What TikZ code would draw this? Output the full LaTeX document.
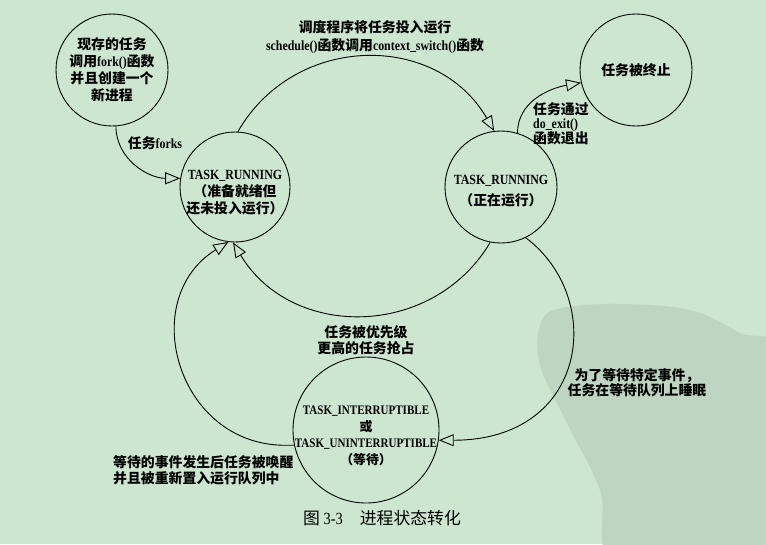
\documentclass[tikz,border=0pt]{standalone}
\usepackage{fontspec}
\setmainfont{Liberation Serif}[FakeStretch=0.85]
\newfontfamily\zh{Noto Sans CJK SC}[Scale=0.99]
\usetikzlibrary{arrows.meta}
\definecolor{paper}{RGB}{205,230,208}
\definecolor{stamp}{RGB}{190,213,193}
\newcommand\cn[1]{{\zh #1}}

\begin{document}
\begin{tikzpicture}[
    x=1pt, y=-1pt,
    font=\fontsize{14}{17}\selectfont\bfseries,
    state/.style={draw, circle, line width=0.9pt, inner sep=0pt},
    lbl/.style={inner sep=0pt, align=center},
    arr/.style={-{Triangle[open, length=15pt, width=12pt]}, line width=0.9pt}
  ]
  \fill[paper] (0,0) rectangle (766,544);
  \useasboundingbox (0,0) rectangle (766,544);
  \begin{scope}
    \clip (0,0) rectangle (766,544);
    \fill[stamp] plot[smooth cycle, tension=0.6] coordinates {(541,322) (562,308) (620,304) (690,310) (738,332) (790,365) (800,570) (622,570) (600,490) (568,425) (540,365)};
  \end{scope}

  % states
  \node[state, minimum size=112] (fork) at (112,70) {};
  \node[state, minimum size=110] (ready) at (235,187) {};
  \node[state, minimum size=112] (dead) at (636,70) {};
  \node[state, minimum size=112] (run) at (501,187) {};
  \node[state, minimum size=146] (wait) at (366,430) {};

  \node[lbl] (forkt) at (fork) {\cn{现存的任务}\\ \cn{调用}fork()\cn{函数}\\ \cn{并且创建一个}\\ \cn{新进程}};
  \node[lbl] (readyt) at (235,193) {TASK\_RUNNING\\ \cn{（准备就绪但}\\ \cn{还未投入运行）}};
  \node[lbl] (deadt) at (dead) {\cn{任务被终止}};
  \node[lbl] (runt) at (501,191) {TASK\_RUNNING\\[4pt] \cn{（正在运行）}};
  \node[lbl, font=\fontsize{13}{16.5}\selectfont\bfseries] (waitt) at (366,436) {TASK\_INTERRUPTIBLE\\ \cn{或}\\ TASK\_UNINTERRUPTIBLE\\ \cn{（等待）}};

  % transitions
  \draw[arr] (fork.-86) to[out=-90, in=180] (ready.171);
  \draw[arr] (ready.87) .. controls +(57,-99) and +(-57,-99) .. (run.97);
  \draw[arr] (run.73) to[out=90, in=190] (dead.193);
  \draw[arr] (run.-101) .. controls +(-58,97) and +(58,97) .. (ready.-92);
  \draw[arr] (run.-64) .. controls +(80,60) and +(150,0) .. (wait.-8);
  \draw[arr] (wait.192) -- ++(-9,0) .. controls +(-108,0) and +(-92,57) .. (ready.-97);

  \node[lbl] (lforks) at (155,143) {\cn{任务}forks};
  \node[lbl, font=\fontsize{14}{18}\selectfont\bfseries] (lsched) at (375,37) {\cn{调度程序将任务投入运行}\\ schedule()\cn{函数调用}context\_switch()\cn{函数}};
  \node[lbl, align=left, anchor=west, font=\fontsize{14}{13.5}\selectfont\bfseries] (lexit) at (533,124) {\cn{任务通过}\\ do\_exit()\\ \cn{函数退出}};
  \node[lbl, font=\fontsize{14}{16}\selectfont\bfseries] (lpre) at (366,340) {\cn{任务被优先级}\\ \cn{更高的任务抢占}};
  \node[lbl, font=\fontsize{14}{15}\selectfont\bfseries] (lsleep) at (637,383) {\cn{为了等待特定事件，}\\ \cn{任务在等待队列上睡眠}};
  \node[lbl, align=left, anchor=west, font=\fontsize{14}{16}\selectfont\bfseries] (lwake) at (113,470) {\cn{等待的事件发生后任务被唤醒}\\ \cn{并且被重新置入运行队列中}};

  \node[lbl, font=\fontsize{17}{20}\selectfont] (caption) at (382,518) {\cn{图} 3-3\quad\cn{进程状态转化}};
\end{tikzpicture}
\end{document}
